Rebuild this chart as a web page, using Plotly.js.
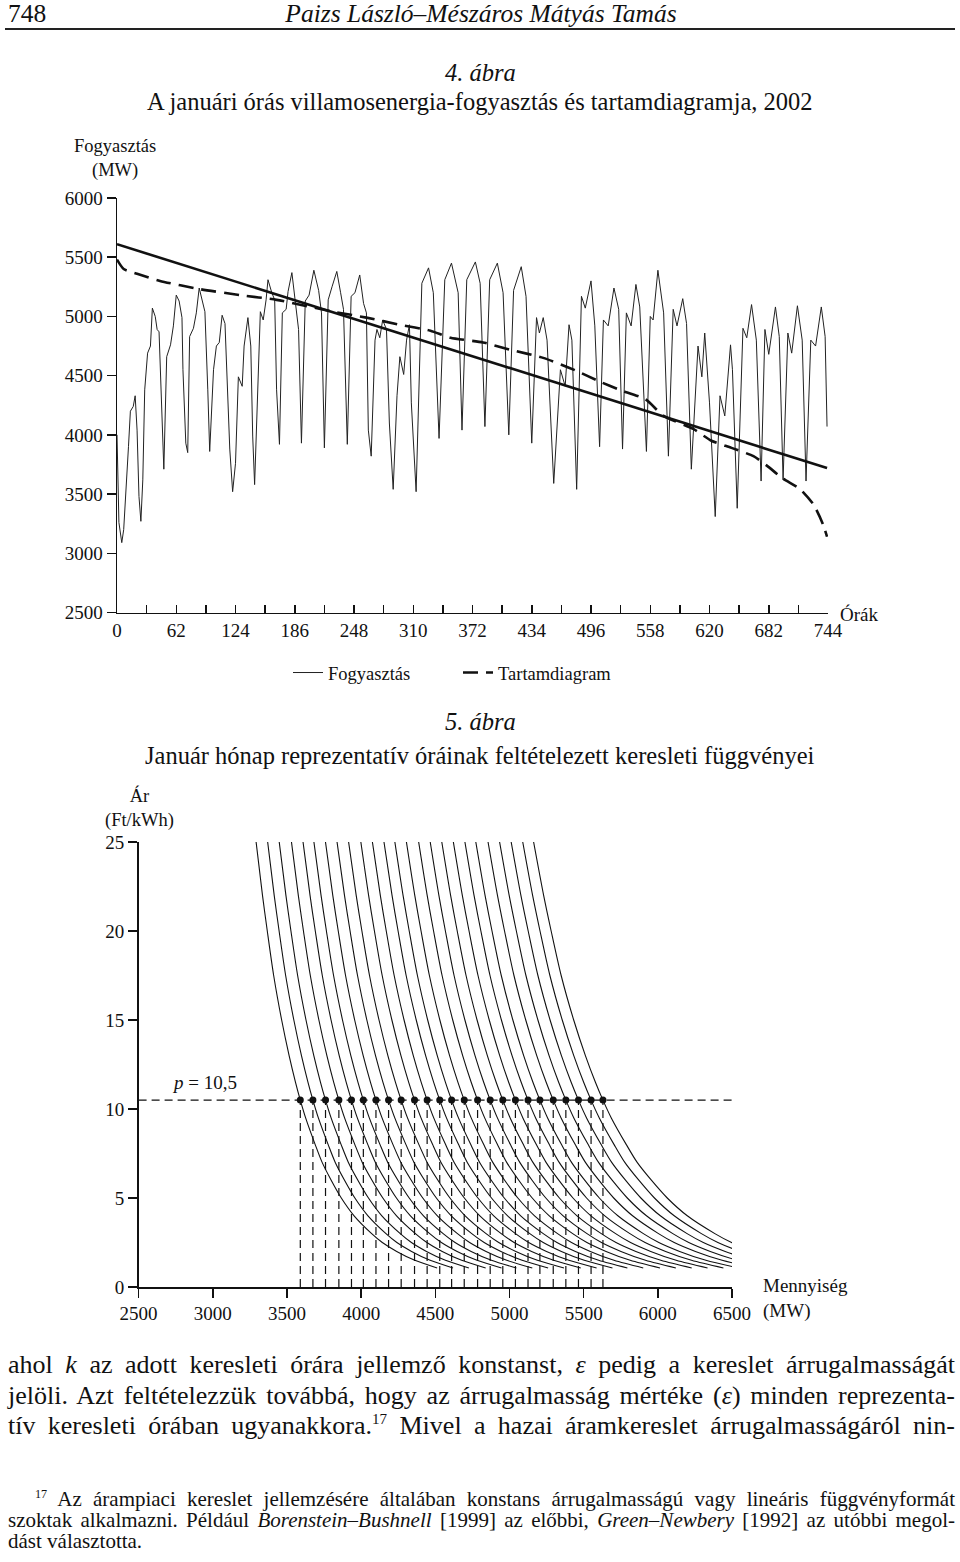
<!DOCTYPE html>
<html lang="hu">
<head>
<meta charset="utf-8">
<script src="https://cdn.plot.ly/plotly-3.0.1.min.js"></script>
<style>
  body { margin: 0; background: #fff; }
  #page { position: relative; width: 960px; height: 1562px; overflow: hidden;
          font-family: "Liberation Serif", "DejaVu Serif", serif; color: #111; }
  #chart { position: absolute; left: 0; top: 0; width: 960px; height: 1562px; }
  .hdr { position: absolute; top: 1px; font-size: 25.5px; line-height: 26px; }
  #rule { position: absolute; left: 5px; top: 28px; width: 950px; border-top: 2px solid #222; }
  .txt { position: absolute; left: 8px; width: 947px; white-space: nowrap; }
  .txt div { text-align: justify; text-align-last: justify; }
  .txt div.last { text-align-last: left; }
  #body { top: 1350px; font-size: 26px; line-height: 30.5px; }
  #foot { top: 1489px; font-size: 21px; line-height: 21px; }
  sup { font-size: 58%; line-height: 0; vertical-align: 0.65em; }
</style>
</head>
<body>
<div id="page">
  <div id="chart"></div>
  <div class="hdr" style="left:8px">748</div>
  <div class="hdr" style="left:0;width:962px;text-align:center"><i>Paizs László–Mészáros Mátyás Tamás</i></div>
  <div id="rule"></div>

  <div class="txt" id="body">
    <div>ahol <i>k</i> az adott keresleti órára jellemző konstanst, <i>ε</i> pedig a kereslet árrugalmasságát</div>
    <div>jelöli. Azt feltételezzük továbbá, hogy az árrugalmasság mértéke (<i>ε</i>) minden reprezenta-</div>
    <div>tív keresleti órában ugyanakkora.<sup>17</sup> Mivel a hazai áramkereslet árrugalmasságáról nin-</div>
  </div>

  <div class="txt" id="foot">
    <div style="padding-left:27px"><sup>17</sup> Az árampiaci kereslet jellemzésére általában konstans árrugalmasságú vagy lineáris függvényformát</div>
    <div>szoktak alkalmazni. Például <i>Borenstein–Bushnell</i> [1999] az előbbi, <i>Green–Newbery</i> [1992] az utóbbi megol-</div>
    <div class="last">dást választotta.</div>
  </div>
</div>

<script>
// 4. ábra – órás fogyasztás (leolvasott pontok), tartamdiagram, trendvonal
const consumptionHours = [0, 1, 2, 5, 7, 12, 14, 17, 19, 21, 23, 25, 27, 29, 32, 35, 37, 40, 42, 44, 46, 48, 49,
  52, 56, 59, 62, 65, 68, 69, 72, 74, 76, 80, 83, 86, 89, 92, 95, 97, 101, 104, 107, 110, 113, 115, 118, 121,
  124, 127, 131, 133, 137, 140, 142, 144, 148, 150, 153, 156, 158, 162, 165, 167, 170, 173, 177, 179, 183,
  186, 190, 193, 197, 201, 206, 211, 214, 217, 221, 225, 230, 234, 237, 241, 245, 249, 254, 258, 261, 263,
  266, 270, 272, 275, 278, 282, 285, 289, 293, 296, 300, 303, 306, 308, 313, 319, 326, 331, 337, 343, 350,
  357, 361, 366, 375, 380, 385, 390, 398, 404, 410, 415, 423, 428, 434, 439, 442, 446, 450, 457, 464, 469,
  473, 476, 481, 486, 490, 496, 500, 505, 509, 514, 520, 525, 529, 533, 538, 543, 547, 554, 558, 561, 566,
  572, 577, 582, 586, 592, 596, 601, 608, 612, 615, 620, 626, 631, 636, 642, 644, 649, 655, 659, 664, 669,
  674, 678, 682, 689, 693, 697, 702, 706, 712, 717, 721, 726, 731, 737, 741, 743];
const consumption = [4000, 3430, 3260, 3090, 3200, 3900, 4200, 4240, 4330, 4040, 3480, 3270, 3620, 4380, 4690,
  4750, 5070, 5000, 4890, 4870, 4380, 3790, 3710, 4660, 4760, 4920, 5180, 5130, 4990, 4550, 3930, 3850, 4830,
  4900, 5030, 5240, 5150, 5040, 4380, 3860, 4550, 4750, 4780, 5010, 4940, 4520, 3880, 3520, 3760, 4490, 4410,
  4750, 4990, 4750, 3990, 3580, 4460, 5040, 4970, 5140, 5310, 5200, 5140, 4380, 3920, 5030, 5060, 5210, 5370,
  5170, 4890, 3930, 5130, 5180, 5390, 5220, 5030, 3890, 5140, 5250, 5380, 5200, 5060, 3920, 5170, 5200, 5350,
  5110, 5030, 4040, 3820, 4800, 4890, 4820, 4970, 4890, 4100, 3540, 4330, 4660, 4510, 4800, 4930, 4270, 3520,
  5280, 5410, 5200, 3970, 5310, 5450, 5200, 4040, 5310, 5460, 5280, 4070, 5310, 5450, 5200, 4000, 5220, 5420,
  5170, 3930, 4990, 4860, 4990, 4800, 3590, 4550, 4410, 4930, 4800, 3540, 5170, 5070, 5300, 4920, 3900, 4970,
  4920, 5240, 5060, 3880, 5030, 4920, 5270, 5080, 3860, 5000, 4970, 5390, 5030, 3820, 5060, 4920, 5150, 4940,
  3710, 4750, 4490, 4860, 4270, 3310, 4330, 4160, 4760, 4550, 3380, 4900, 4820, 5100, 4800, 3610, 4890, 4680,
  5080, 4830, 3620, 4860, 4690, 5090, 4800, 3610, 4800, 4750, 5080, 4830, 4070];

const durationHours = [0, 7, 21, 45, 87, 129, 167, 226, 261, 296, 328, 349, 383, 411, 446, 481, 505, 526, 553,
  572, 603, 622, 643, 666, 680, 697, 715, 729, 739, 743];
const duration = [5480, 5400, 5360, 5300, 5230, 5180, 5140, 5040, 4990, 4930, 4880, 4820, 4780, 4720, 4650,
  4540, 4450, 4380, 4300, 4160, 4050, 3950, 3890, 3820, 3740, 3630, 3540, 3410, 3240, 3140];

const trendHours = [0, 743];
const trend = [5610, 3720];

const hourTicks = [0, 62, 124, 186, 248, 310, 372, 434, 496, 558, 620, 682, 744];
const mwTicks = [2500, 3000, 3500, 4000, 4500, 5000, 5500, 6000];

// 5. ábra – keresleti görbék: a p = 10,5 pontok mennyiségei és a görbe alakja (q / q_i) árszintenként
const refQuantities = [3590, 3675, 3760, 3850, 3935, 4015, 4100, 4185, 4270, 4360, 4445, 4530, 4610, 4695,
  4785, 4870, 4955, 5040, 5125, 5205, 5295, 5380, 5465, 5550, 5630];
const refPrice = 10.5;
const curvePrices = [25, 22, 20, 17.5, 15, 13, 11.5, 10.5, 9.5, 8, 7, 6, 5, 4, 3, 2.5, 2, 1.5, 1.07];
const curveRatios = [0.917, 0.929, 0.938, 0.950, 0.965, 0.979, 0.991, 1, 1.010, 1.028, 1.041, 1.058, 1.077,
  1.101, 1.134, 1.154, 1.181, 1.215, 1.257];
const qTicks = [2500, 3000, 3500, 4000, 4500, 5000, 5500, 6000, 6500];
const pTicks = [0, 5, 10, 15, 20, 25];

// pixel -> paper segedfuggvenyek
const W = 960, H = 1562;
const px = v => v / W;
const py = v => 1 - v / H;

const serif = '"Liberation Serif", "DejaVu Serif", serif';
const ink = '#111';

const traces = [];

traces.push({
  x: consumptionHours, y: consumption, xaxis: 'x', yaxis: 'y',
  type: 'scatter', mode: 'lines', name: 'Fogyasztás',
  line: { color: '#222', width: 1 }
});
traces.push({
  x: durationHours, y: duration, xaxis: 'x', yaxis: 'y',
  type: 'scatter', mode: 'lines', name: 'Tartamdiagram',
  line: { color: ink, width: 2.6, dash: '15px,8px', shape: 'spline', smoothing: 0.6 }
});
traces.push({
  x: trendHours, y: trend, xaxis: 'x', yaxis: 'y',
  type: 'scatter', mode: 'lines', showlegend: false,
  line: { color: ink, width: 2.6 }
});

// keresleti gorbek
refQuantities.forEach(q => {
  traces.push({
    x: curveRatios.map(r => q * r), y: curvePrices, xaxis: 'x2', yaxis: 'y2',
    type: 'scatter', mode: 'lines', showlegend: false,
    line: { color: ink, width: 1.1, shape: 'spline', smoothing: 0.8 }
  });
});

// fuggoleges szaggatott vonalak a pontoktol a tengelyig
const vx = [], vy = [];
refQuantities.forEach(q => { vx.push(q, q, null); vy.push(0, refPrice, null); });
traces.push({
  x: vx, y: vy, xaxis: 'x2', yaxis: 'y2', type: 'scatter', mode: 'lines', showlegend: false,
  line: { color: ink, width: 1.2, dash: '8px,5px' }
});
traces.push({
  x: [qTicks[0], qTicks[qTicks.length - 1]], y: [refPrice, refPrice], xaxis: 'x2', yaxis: 'y2',
  type: 'scatter', mode: 'lines', showlegend: false,
  line: { color: ink, width: 1.2, dash: '8px,5px' }
});
traces.push({
  x: refQuantities, y: refQuantities.map(() => refPrice), xaxis: 'x2', yaxis: 'y2',
  type: 'scatter', mode: 'markers', showlegend: false,
  marker: { color: ink, size: 7 }
});

const axisBase = {
  showgrid: false, zeroline: false, showline: true, linecolor: ink, linewidth: 1.5,
  tickcolor: ink, tickwidth: 1.5, fixedrange: true,
  tickfont: { family: serif, size: 19, color: ink }
};

const layout = {
  width: W, height: H,
  margin: { l: 0, r: 0, t: 0, b: 0 },
  paper_bgcolor: '#fff', plot_bgcolor: 'rgba(0,0,0,0)',
  font: { family: serif, color: ink },
  showlegend: true,
  legend: {
    orientation: 'h', x: px(288), y: py(673), xanchor: 'left', yanchor: 'middle',
    font: { family: serif, size: 18.5, color: ink },
    entrywidth: 125, entrywidthmode: 'pixels', bgcolor: 'rgba(0,0,0,0)'
  },
  xaxis: Object.assign({}, axisBase, {
    domain: [px(117), px(828)], range: [0, 744], anchor: 'y',
    tickmode: 'array', tickvals: hourTicks, ticktext: hourTicks.map(String),
    ticks: 'inside', ticklen: 8,
    minor: { tickmode: 'linear', tick0: 0, dtick: 31, ticks: 'inside', ticklen: 8, tickcolor: ink, tickwidth: 1.5 }
  }),
  yaxis: Object.assign({}, axisBase, {
    domain: [py(612.5), py(198)], range: [2500, 6000], anchor: 'x',
    tickmode: 'array', tickvals: mwTicks, ticktext: mwTicks.map(String),
    ticks: 'outside', ticklen: 9
  }),
  xaxis2: Object.assign({}, axisBase, {
    domain: [px(138.6), px(732)], range: [2500, 6500], anchor: 'y2',
    tickmode: 'array', tickvals: qTicks, ticktext: qTicks.map(String),
    ticks: 'outside', ticklen: 9
  }),
  yaxis2: Object.assign({}, axisBase, {
    domain: [py(1287), py(842)], range: [0, 25], anchor: 'x2',
    tickmode: 'array', tickvals: pTicks, ticktext: pTicks.map(String),
    ticks: 'outside', ticklen: 9
  }),
  annotations: [
    { text: '<i>4. ábra</i>', x: 0.5, y: py(73), size: 24.5 },
    { text: 'A januári órás villamosenergia-fogyasztás és tartamdiagramja, 2002', x: 0.5, y: py(101), size: 24.5 },
    { text: 'Fogyasztás<br>(MW)', x: px(115), y: py(158), size: 18.5 },
    { text: 'Órák', x: px(838), y: py(615), size: 19, xanchor: 'left' },
    { text: '<i>5. ábra</i>', x: 0.5, y: py(721), size: 24.5 },
    { text: 'Január hónap reprezentatív óráinak feltételezett keresleti függvényei', x: 0.5, y: py(756), size: 24.5 },
    { text: 'Ár<br>(Ft/kWh)', x: px(139), y: py(808), size: 18.5 },
    { text: '<i>p</i> = 10,5', x: px(170), y: py(1082), size: 19, xanchor: 'left' },
    { text: 'Mennyiség<br>(MW)', x: px(761), y: py(1298), size: 19, xanchor: 'left', align: 'left' }
  ].map(a => ({
    text: a.text, x: a.x, y: a.y, xref: 'paper', yref: 'paper',
    xanchor: a.xanchor || 'center', yanchor: 'middle', align: a.align || 'center',
    showarrow: false, font: { family: serif, size: a.size, color: ink }
  }))
};

Plotly.newPlot('chart', traces, layout, { staticPlot: true, displayModeBar: false });
</script>
</body>
</html>
